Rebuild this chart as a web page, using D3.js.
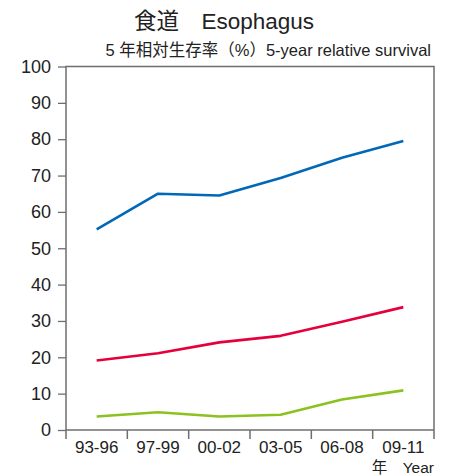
<!DOCTYPE html>
<html>
<head>
<meta charset="utf-8">
<script src="https://cdn.jsdelivr.net/npm/d3@7"></script>
<style>
  body { margin: 0; background: #fff; }
  svg { display: block; font-family: "Liberation Sans", Arial, "Noto Sans CJK JP", sans-serif; }
</style>
</head>
<body>
<svg id="chart"></svg>
<script>
// periods on the x axis
const periods = ["93-96", "97-99", "00-02", "03-05", "06-08", "09-11"];
// 5-year relative survival (%) per series
const seriesBlue = [55.2, 65.0, 64.5, 69.3, 74.9, 79.5];
const seriesRed = [19.1, 21.1, 24.1, 25.9, 29.8, 33.8];
const seriesGreen = [3.7, 4.9, 3.7, 4.2, 8.4, 10.9];
const yTicks = [0, 10, 20, 30, 40, 50, 60, 70, 80, 90, 100];

const series = [
    {values: seriesBlue, color: "#0068b7"},
    {values: seriesRed, color: "#e5003c"},
    {values: seriesGreen, color: "#8cc21f"}
];

const width = 450, height = 476;
const margin = {top: 66.5, right: 16, bottom: 46, left: 66};
const axisColor = "#6e6e6e";

const svg = d3.select("#chart")
    .attr("width", width)
    .attr("height", height);

const x = d3.scaleBand()
    .domain(periods)
    .range([margin.left, width - margin.right]);

const y = d3.scaleLinear()
    .domain([0, 100])
    .range([height - margin.bottom, margin.top]);

// title + subtitle
svg.append("text")
    .attr("x", 224)
    .attr("y", 29)
    .attr("text-anchor", "middle")
    .style("font-size", "22.5px")
    .attr("fill", "#222")
    .text("食道　Esophagus");

svg.append("text")
    .attr("x", width - margin.right - 3)
    .attr("y", 56)
    .attr("text-anchor", "end")
    .style("font-size", "16.5px")
    .attr("fill", "#222")
    .text("5 年相対生存率（%）5-year relative survival");

// y axis
const yAxisG = svg.append("g")
    .attr("transform", `translate(${margin.left},0)`)
    .call(d3.axisLeft(y).tickValues(yTicks).tickSize(8).tickPadding(7));
yAxisG.select(".domain").remove();
yAxisG.selectAll("line").attr("stroke", axisColor).attr("stroke-width", 1.3);
yAxisG.selectAll("text")
    .style("font-size", "18px")
    .style("font-family", "'Liberation Sans', Arial, sans-serif")
    .attr("fill", "#222");

// frame: left, top, right, bottom
const x0 = margin.left, x1 = width - margin.right;
const yTop = y(100), yBot = y(0);
const frame = svg.append("g")
    .attr("fill", "none")
    .attr("stroke", axisColor)
    .attr("stroke-width", 1.5);
frame.append("path")
    .attr("d", `M${x0},${yBot + 9}V${yTop}H${x1}V${yBot + 9}`);
frame.append("line")
    .attr("x1", x0).attr("x2", x1)
    .attr("y1", yBot).attr("y2", yBot);

// x boundary ticks
const bounds = periods.map(p => x(p)).concat([x1]);
frame.selectAll(".xtick")
    .data(bounds.slice(1, -1))
    .join("line")
    .attr("class", "xtick")
    .attr("x1", d => d).attr("x2", d => d)
    .attr("y1", yBot).attr("y2", yBot + 9);

// x labels
const xAxisG = svg.append("g")
    .attr("transform", `translate(0,${yBot})`)
    .call(d3.axisBottom(x).tickSize(0).tickPadding(11));
xAxisG.select(".domain").remove();
xAxisG.selectAll("text")
    .style("font-size", "17px")
    .style("font-family", "'Liberation Sans', Arial, sans-serif")
    .attr("fill", "#222");

svg.append("text")
    .attr("x", x1)
    .attr("y", 473)
    .attr("text-anchor", "end")
    .style("font-size", "15.5px")
    .attr("fill", "#222")
    .text("年　Year");

// lines
const line = d3.line()
    .x((d, i) => x(periods[i]) + x.bandwidth() / 2)
    .y(d => y(d));

svg.selectAll(".series")
    .data(series)
    .join("path")
    .attr("class", "series")
    .attr("d", d => line(d.values))
    .attr("fill", "none")
    .attr("stroke", d => d.color)
    .attr("stroke-width", 2.6)
    .attr("stroke-linejoin", "round");
</script>
</body>
</html>
